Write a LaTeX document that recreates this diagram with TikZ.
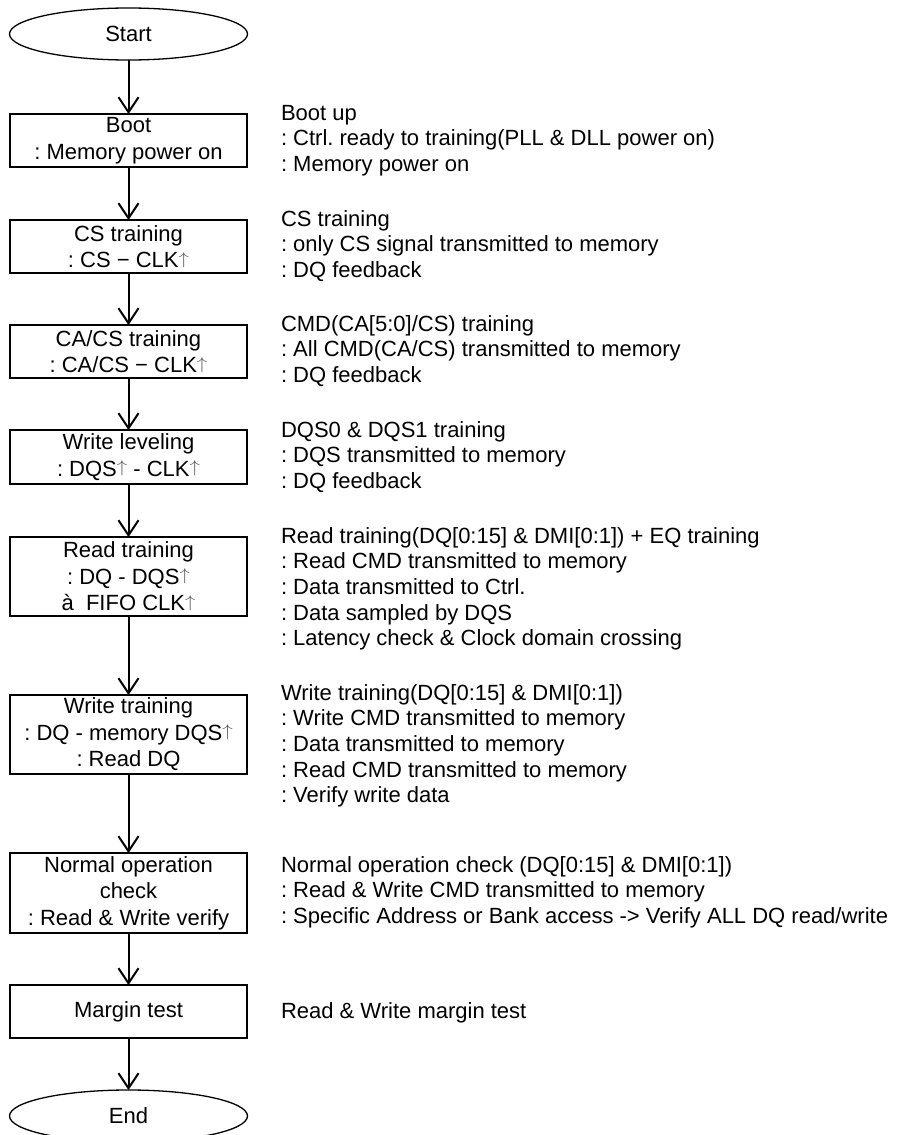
\documentclass[tikz,border=0pt]{standalone}
\usepackage{fontspec}
\usepackage{graphicx}
\setmainfont{Liberation Sans}
\usetikzlibrary{shapes.geometric,arrows.meta}
\frenchspacing
% thin upright arrow used for rising clock edges
\newcommand\edgeup{{\color{black!65}\raisebox{0.16em}{\scalebox{1}[0.82]{$\uparrow$}}}}
\begin{document}
\begin{tikzpicture}[x=1pt,y=-1pt,
  every node/.style={inner sep=0pt,outer sep=0pt},
  terminal/.style={ellipse,draw,line width=1.3pt,minimum width=238pt,minimum height=52pt,
    font=\fontsize{22}{26}\selectfont},
  stepbox/.style={rectangle,draw,line width=2pt,minimum width=237pt,align=center,
    font=\fontsize{22}{26.5}\selectfont},
  note/.style={anchor=base west,align=left,font=\fontsize{22}{25.7}\selectfont},
  flow/.style={line width=2pt,-{Straight Barb[length=15pt,width=20pt]}}]
\clip (0,0) rectangle (901,1135);
\fill[white] (0,0) rectangle (901,1135);

% flow chart column
\node[terminal] (start) at (128.5,34) {Start};
\node[stepbox,minimum height=53pt] (boot) at (128.5,140.5) {Boot\\: Memory power on};
\node[stepbox,minimum height=53pt] (cs) at (128.5,246.5) {CS training\\: CS − CLK\edgeup};
\node[stepbox,minimum height=53pt] (cacs) at (128.5,351.5) {CA/CS training\\: CA/CS − CLK\edgeup};
\node[stepbox,minimum height=54pt] (wl) at (128.5,457) {Write leveling\\: DQS\edgeup{} - CLK\edgeup};
\node[stepbox,minimum height=79pt] (rd) at (128.5,576.5) {Read training\\: DQ - DQS\edgeup\\à\ \ FIFO CLK\edgeup};
\node[stepbox,minimum height=79pt] (wr) at (128.5,734.5) {Write training\\: DQ - memory DQS\edgeup\\: Read DQ};
\node[stepbox,minimum height=80pt] (nop) at (128.5,893) {Normal operation\\check\\: Read \& Write verify};
\node[stepbox,minimum height=53pt] (mg) at (128.5,1011.5) {Margin test};
\node[terminal] (end) at (128.5,1116) {End};

\draw[flow] (start) -- (boot);
\draw[flow] (boot) -- (cs);
\draw[flow] (cs) -- (cacs);
\draw[flow] (cacs) -- (wl);
\draw[flow] (wl) -- (rd);
\draw[flow] (rd) -- (wr);
\draw[flow] (wr) -- (nop);
\draw[flow] (nop) -- (mg);
\draw[flow] (mg) -- (end);

% descriptions beside each step (anchored at the baseline of their last line)
\node[note] (nboot) at (281,171.4) {Boot up\\: Ctrl. ready to training(PLL \& DLL power on)\\: Memory power on};
\node[note] (ncs) at (281,277.4) {CS training\\: only CS signal transmitted to memory\\: DQ feedback};
\node[note] (ncacs) at (281,382.4) {CMD(CA[5:0]/CS) training\\: All CMD(CA/CS) transmitted to memory\\: DQ feedback};
\node[note] (nwl) at (281,488.4) {DQS0 \& DQS1 training\\: DQS transmitted to memory\\: DQ feedback};
\node[note] (nrd) at (281,645.8) {Read training(DQ[0:15] \& DMI[0:1]) + EQ training\\: Read CMD transmitted to memory\\: Data transmitted to Ctrl.\\: Data sampled by DQS\\: Latency check \& Clock domain crossing};
\node[note] (nwr) at (281,802.8) {Write training(DQ[0:15] \& DMI[0:1])\\: Write CMD transmitted to memory\\: Data transmitted to memory\\: Read CMD transmitted to memory\\: Verify write data};
\node[note] (nnop) at (281,923.4) {Normal operation check (DQ[0:15] \& DMI[0:1])\\: Read \& Write CMD transmitted to memory\\: Specific Address or Bank access -> Verify ALL DQ read/write};
\node[note] (nmg) at (281,1018) {Read \& Write margin test};
\end{tikzpicture}
\end{document}
